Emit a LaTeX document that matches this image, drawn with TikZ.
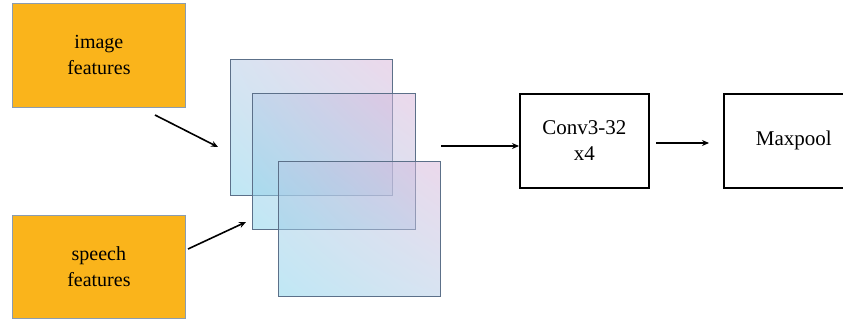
\documentclass[tikz,border=0pt]{standalone}
\usepackage{fontspec}
\setmainfont{Liberation Serif}
\usetikzlibrary{arrows.meta,shadings}
\definecolor{feat}{HTML}{FAB41B}
\definecolor{featedge}{HTML}{8A9CB0}
\definecolor{planeedge}{HTML}{5C7089}
\definecolor{pll}{HTML}{85D2EA}
\definecolor{pur}{HTML}{D9B5D9}
\definecolor{pmid}{HTML}{B4CBE6}
\tikzset{
  featbox/.style={draw=featedge, line width=0.8pt, fill=feat, align=center, inner sep=0pt, anchor=north west, font=\fontsize{20}{26}\selectfont},
  plane/.style={draw=planeedge, line width=1pt, fill opacity=0.52, draw opacity=1, lower left=pll, upper right=pur, upper left=pmid, lower right=pmid, inner sep=0pt, anchor=north west},
  opbox/.style={draw=black, line width=1.5pt, fill=white, align=center, inner sep=0pt, anchor=north west, font=\fontsize{21}{26}\selectfont},
  conn/.style={line width=1.6pt, -{Stealth[length=7pt,width=6pt]}}
}
\begin{document}
\begin{tikzpicture}[x=1pt,y=-1pt]
\useasboundingbox (0,0) rectangle (843,321);
\node[featbox, minimum width=173pt, minimum height=104pt] (img) at (12,3) {image\\features};
\node[featbox, minimum width=173pt, minimum height=103pt] (sp) at (12,215) {speech\\features};
\node[plane, minimum width=162pt, minimum height=136pt] (p1) at (230,59) {};
\node[plane, minimum width=163pt, minimum height=136pt] (p2) at (252,93) {};
\node[plane, minimum width=162pt, minimum height=135pt] (p3) at (278,161) {};
\node[opbox, minimum width=129pt, minimum height=94pt] (conv) at (519,93) {Conv3-32\\x4};
\node[opbox, minimum width=140pt, minimum height=94pt] (mp) at (723,93) {Maxpool};
\coordinate (a1s) at (155,115);
\coordinate (a1e) at (218,147);
\coordinate (a2s) at (188,249);
\coordinate (a2e) at (246,222);
\coordinate (a3s) at (441,146);
\coordinate (a4s) at (656,143);
\coordinate (a4e) at (709,143);
\draw[conn] (a1s) -- (a1e);
\draw[conn] (a2s) -- (a2e);
\draw[conn] (a3s) -- (conv.west |- a3s);
\draw[conn] (a4s) -- (a4e);
\end{tikzpicture}
\end{document}
